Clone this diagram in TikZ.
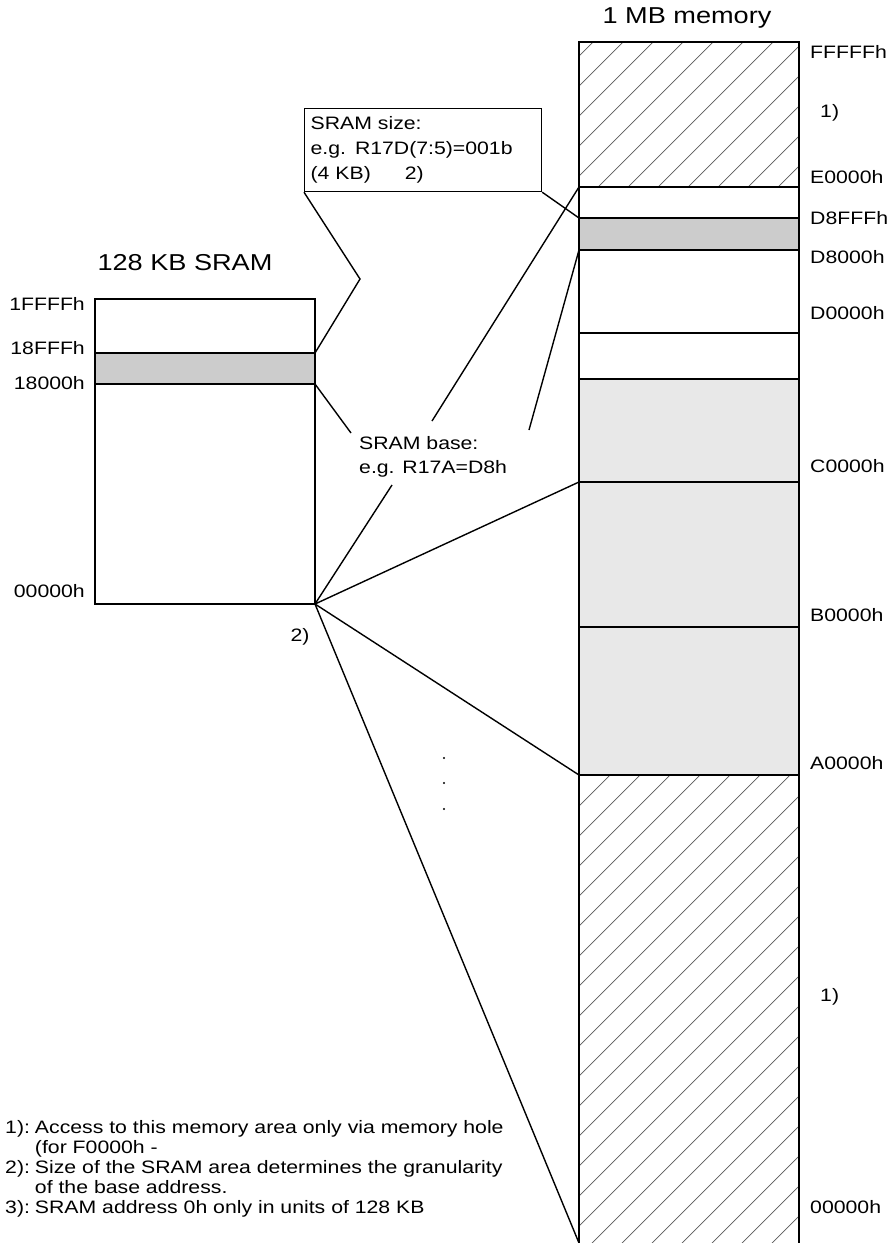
\documentclass[tikz,border=0pt]{standalone}
\usepackage{fontspec}
\setmainfont{Liberation Sans}[FakeStretch=1.18]
\begin{document}
\begin{tikzpicture}[x=1pt, y=-1pt,
    lbl/.style={font=\fontsize{18}{20}\selectfont, inner sep=0pt},
    ttl/.style={font=\fontsize{23}{25}\selectfont, inner sep=0pt},
    frame/.style={line width=1.8pt},
    lead/.style={line width=1.4pt},
    hatchline/.style={line width=0.7pt, black!65}]
    \useasboundingbox (0,0) rectangle (891,1243);

    % 1 MB memory: shaded areas
    \fill[black!20] (579,218) rectangle (799,250);
    \fill[black!9] (579,379) rectangle (799,775);

    % Hatched areas (memory hole only)
    \begin{scope}
        \clip (579,42) rectangle (799,187) (579,775) rectangle (799,1243);
        \foreach \c in {605,635,...,2045}
            \draw[hatchline] ({\c-1300},1300) -- (\c,0);
    \end{scope}

    % Column outline and borders
    \draw[frame] (579,1243) -- (579,42) -- (799,42) -- (799,1243);
    \foreach \y in {187,218,250,333,379,482,627,775}
        \draw[frame] (579,\y) -- (799,\y);

    \coordinate (mE) at (579,187);
    \coordinate (mD8F) at (579,218);
    \coordinate (mD8) at (579,250);
    \coordinate (mC) at (579,482);
    \coordinate (mA) at (579,775);
    \coordinate (mBot) at (579,1243);

    \node[ttl] (memtitle) at (687,18) {1 MB memory};

    % Address labels of the 1 MB memory
    \node[lbl, anchor=west] (aFFFFF) at (810,52) {FFFFFh};
    \node[lbl, anchor=west] (hole1) at (820,113) {1)};
    \node[lbl, anchor=west] (aE) at (810,177) {E0000h};
    \node[lbl, anchor=west] (aD8F) at (810,218) {D8FFFh};
    \node[lbl, anchor=west] (aD8) at (810,257) {D8000h};
    \node[lbl, anchor=west] (aD) at (810,313) {D0000h};
    \node[lbl, anchor=west] (aC) at (810,466) {C0000h};
    \node[lbl, anchor=west] (aB) at (810,615) {B0000h};
    \node[lbl, anchor=west] (aA) at (810,763) {A0000h};
    \node[lbl, anchor=west] (hole2) at (820,997) {1)};
    \node[lbl, anchor=west] (a0) at (810,1207) {00000h};

    % 128 KB SRAM
    \fill[black!20] (95,353) rectangle (315,384);
    \draw[frame] (95,299) rectangle (315,604);
    \draw[frame] (95,353) -- (315,353) (95,384) -- (315,384);

    \coordinate (s18F) at (315,353);
    \coordinate (s18) at (315,384);
    \coordinate (s0) at (315,604);

    \node[ttl] (sramtitle) at (185,263) {128 KB SRAM};
    \node[lbl, anchor=east] (s1FFFF) at (85,304) {1FFFFh};
    \node[lbl, anchor=east] (s18FFF) at (85,348) {18FFFh};
    \node[lbl, anchor=east] (s18000) at (85,383) {18000h};
    \node[lbl, anchor=east] (s00000) at (85,591) {00000h};

    % SRAM size callout
    \node[draw, line width=1.2pt, anchor=north west, minimum width=237, minimum height=83,
          text width=225pt, inner sep=6pt, align=left, font=\fontsize{18}{25}\selectfont]
        (size) at (304,108) {SRAM size:\\e.g. R17D(7:5)=001b\\(4 KB)\hspace{34pt}2)};
    \draw[lead] (size.south west) -- (360,279) -- (s18F);
    \draw[lead] (size.south east) -- (mD8F);

    % SRAM base callout
    \node[lbl, anchor=north west, align=left, font=\fontsize{18}{24}\selectfont]
        (base) at (359,436) {SRAM base:\\e.g. R17A=D8h};
    \draw[lead] (s18) -- (351,433);
    \draw[lead] (432,421) -- (mE);
    \draw[lead] (529,430) -- (mD8);
    \draw[lead] (392,485) -- (s0);

    % Mapping of the SRAM into the memory
    \draw[lead] (s0) -- (mC);
    \draw[lead] (s0) -- (mA);
    \draw[lead] (s0) -- (mBot);
    \node[lbl] (gran) at (300,637) {2)};

    \foreach \y in {758,783,809}
        \fill (444,\y) circle (1.2);

    % Footnotes
    \node[lbl, anchor=north west] (notes) at (5,1119) {%
        \begin{tabular}{@{}l@{\hspace{5pt}}l@{}}
            1): & Access to this memory area only via memory hole\\
                & (for F0000h -\\
            2): & Size of the SRAM area determines the granularity\\
                & of the base address.\\
            3): & SRAM address 0h only in units of 128 KB
        \end{tabular}};

\end{tikzpicture}
\end{document}
